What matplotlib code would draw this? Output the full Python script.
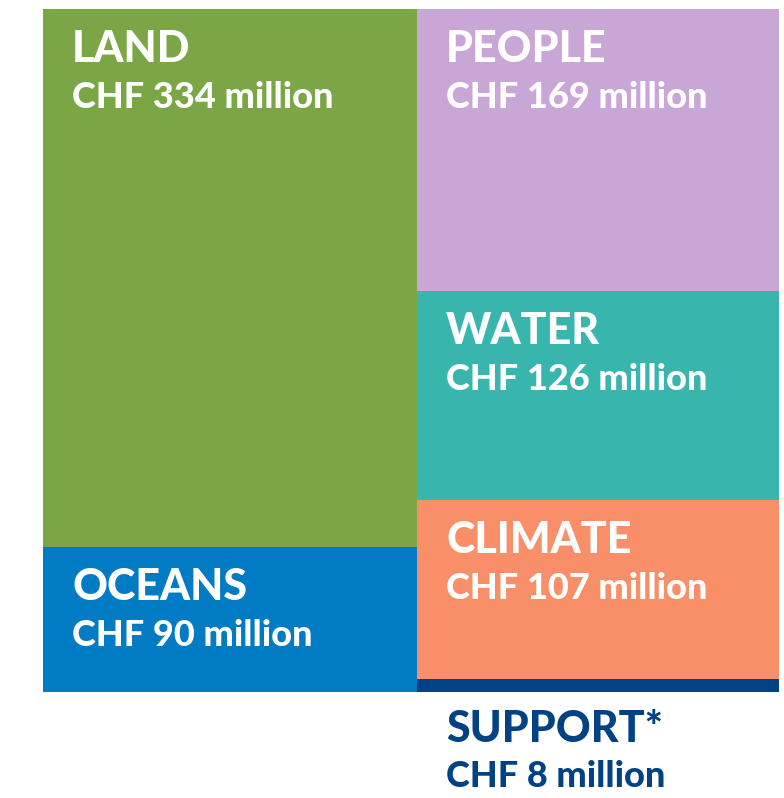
import matplotlib.pyplot as plt
from matplotlib.patches import Rectangle

# data
left_names = ['LAND', 'OCEANS']
left_values = [334, 90]
right_names = ['PEOPLE', 'WATER', 'CLIMATE', 'SUPPORT*']
right_values = [169, 126, 107, 8]
left_colors = ['#7AA645', '#007BC4']
right_colors = ['#C8A6D6', '#38B6AD', '#F98F69', '#004283']

plt.rcParams['font.family'] = ['Lato', 'DejaVu Sans']

fig = plt.figure(figsize=(7.84, 7.98), dpi=100)
ax = fig.add_axes([43 / 784, (798 - 692) / 798, (779 - 43) / 784, (692 - 9) / 798])
ax.set_xlim(0, 1)
ax.set_ylim(0, 1)
ax.axis('off')

total = sum(left_values) + sum(right_values)


def label(x, y, name, value, color, under=False):
    # y is the top of the box (or bottom for the label below)
    ax.annotate(name, (x, y), xytext=(29, -53 if not under else -50),
                textcoords='offset pixels', ha='left', va='baseline',
                fontsize=31, fontweight=900, color=color)
    ax.annotate('CHF %d million' % value, (x, y),
                xytext=(29, -99 if not under else -95),
                textcoords='offset pixels', ha='left', va='baseline',
                fontsize=26, fontweight=900, color=color)


def column(x0, width, names, values, colors):
    col_sum = sum(values)
    top = 1.0
    for name, v, c in zip(names, values, colors):
        h = v / col_sum
        ax.add_patch(Rectangle((x0, top - h), width, h, facecolor=c,
                               edgecolor='none'))
        if name.startswith('SUPPORT'):
            label(x0, top - h, name, v, c, under=True)
        else:
            label(x0, top, name, v, 'white')
        top -= h


w_left = sum(left_values) / total
column(0, w_left, left_names, left_values, left_colors)
column(w_left, 1 - w_left, right_names, right_values, right_colors)

fig.savefig('out.png', dpi=100)
